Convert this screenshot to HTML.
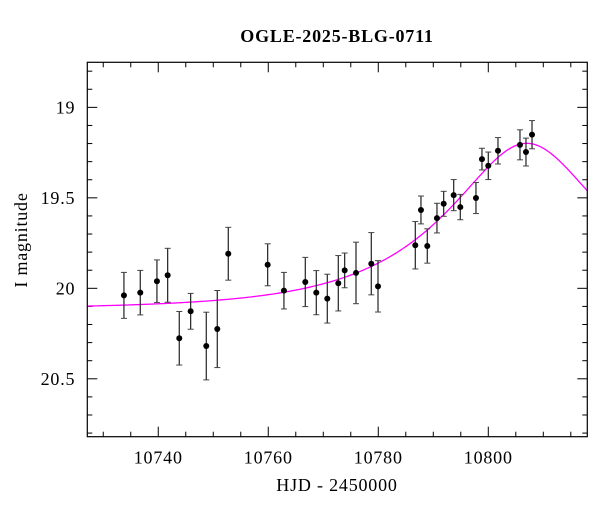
<!DOCTYPE html>
<html><head><meta charset="utf-8"><style>
body{margin:0;background:#fff;}
svg{display:block;font-family:"Liberation Serif",serif;}
</style></head><body>
<svg id="chart" width="600" height="512" viewBox="0 0 600 512" xmlns="http://www.w3.org/2000/svg">
<text x="337" y="42" text-anchor="middle" font-size="18" font-weight="bold" letter-spacing="0.8">OGLE-2025-BLG-0711</text>
<text x="337" y="491" text-anchor="middle" font-size="18" letter-spacing="0.8">HJD - 2450000</text>
<text transform="translate(27,240) rotate(-90)" text-anchor="middle" font-size="18" letter-spacing="0.8">I magnitude</text>
<g id="ticks"></g><g id="curve"></g><g id="points"></g>
<rect x="87.3" y="62.3" width="500" height="374.4" fill="none" stroke="#000" stroke-width="1.2"/>
</svg>
<script>
const times=[10733.76,10736.73,10739.76,10741.71,10743.82,10745.89,10748.73,10750.73,10752.73,10759.89,10762.85,10766.73,10768.73,10770.73,10772.73,10773.89,10775.95,10778.73,10779.95,10786.73,10787.76,10788.91,10790.67,10791.89,10793.71,10794.91,10797.76,10798.85,10800.0,10801.76,10805.76,10806.85,10807.95];
const mags=[20.039,20.024,19.961,19.928,20.276,20.127,20.319,20.225,19.809,19.870,20.013,19.965,20.024,20.057,19.972,19.901,19.915,19.864,19.989,19.762,19.567,19.766,19.612,19.533,19.485,19.551,19.501,19.286,19.323,19.240,19.207,19.247,19.151];
const errs=[0.127,0.123,0.118,0.149,0.148,0.099,0.187,0.213,0.146,0.116,0.101,0.136,0.122,0.135,0.153,0.096,0.170,0.172,0.142,0.131,0.077,0.095,0.082,0.069,0.086,0.070,0.086,0.060,0.076,0.073,0.083,0.077,0.078];
const modelParams=[10807.0,26.3,0.464,20.115]; // t0, tE, u0, baseline
const xTicks=[10740,10760,10780,10800];
const yTicks=[19,19.5,20,20.5];
const xDomain=[10727.1,10818.0], yDomain=[18.751,20.820];
const L=87.3,R=587.3,T=62.3,B=436.7;
const sx=v=>L+(v-xDomain[0])/(xDomain[1]-xDomain[0])*(R-L);
const sy=v=>T+(v-yDomain[0])/(yDomain[1]-yDomain[0])*(B-T);
const NS='http://www.w3.org/2000/svg';
function mk(tag,parent,attrs){const e=document.createElementNS(NS,tag);for(const k in attrs)e.setAttribute(k,attrs[k]);parent.appendChild(e);return e;}
const tg=document.getElementById('ticks');
for(let v=10730;v<=10815;v+=5){const maj=v%20===0;const x=sx(v);const len=maj?10:5;
 let t=mk('line',tg,{x1:x,x2:x,y1:B,y2:B-len,stroke:'#000','stroke-width':1});
 
 
 t=mk('line',tg,{x1:x,x2:x,y1:T,y2:T+len,stroke:'#000','stroke-width':1});
 
 }
for(let i=188;i<=208;i++){const v=i/10;const maj=i%5===0;const y=sy(v);const len=maj?10:5;
 let t=mk('line',tg,{x1:L,x2:L+len,y1:y,y2:y,stroke:'#000','stroke-width':1});
 
 
 t=mk('line',tg,{x1:R,x2:R-len,y1:y,y2:y,stroke:'#000','stroke-width':1});
 
 }
xTicks.forEach(v=>{const t=mk('text',tg,{x:sx(v),y:B+27,'text-anchor':'middle','font-size':18,'letter-spacing':0.8});t.textContent=v;
 
 });
yTicks.forEach(v=>{const t=mk('text',tg,{x:L-12,y:sy(v)+6,'text-anchor':'end','font-size':18,'letter-spacing':0.8});t.textContent=v;
 
 });
const [t0,tE,u0,base]=modelParams;
function model(t){const u=Math.sqrt(u0*u0+((t-t0)/tE)**2);const A=(u*u+2)/(u*Math.sqrt(u*u+4));return base-2.5*Math.log10(A);}
let d='';for(let i=0;i<=300;i++){const t=xDomain[0]+(xDomain[1]-xDomain[0])*i/300;d+=(i?'L':'M')+sx(t).toFixed(2)+','+sy(model(t)).toFixed(2);}
const c=mk('path',document.getElementById('curve'),{d:d,fill:'none',stroke:'#ff00ff','stroke-width':1.3});


const pg=document.getElementById('points');
times.forEach((t,i)=>{const x=sx(t),y=sy(mags[i]),y1=sy(mags[i]-errs[i]),y2=sy(mags[i]+errs[i]);
 const g=mk('g',pg,{});
 
 
 mk('line',g,{x1:x,x2:x,y1:y1,y2:y2,stroke:'#222','stroke-width':1.2});
 mk('line',g,{x1:x-3,x2:x+3,y1:y1,y2:y1,stroke:'#444','stroke-width':1});
 mk('line',g,{x1:x-3,x2:x+3,y1:y2,y2:y2,stroke:'#444','stroke-width':1});
 mk('circle',g,{cx:x,cy:y,r:3,fill:'#000'});});
</script>
</body></html>
